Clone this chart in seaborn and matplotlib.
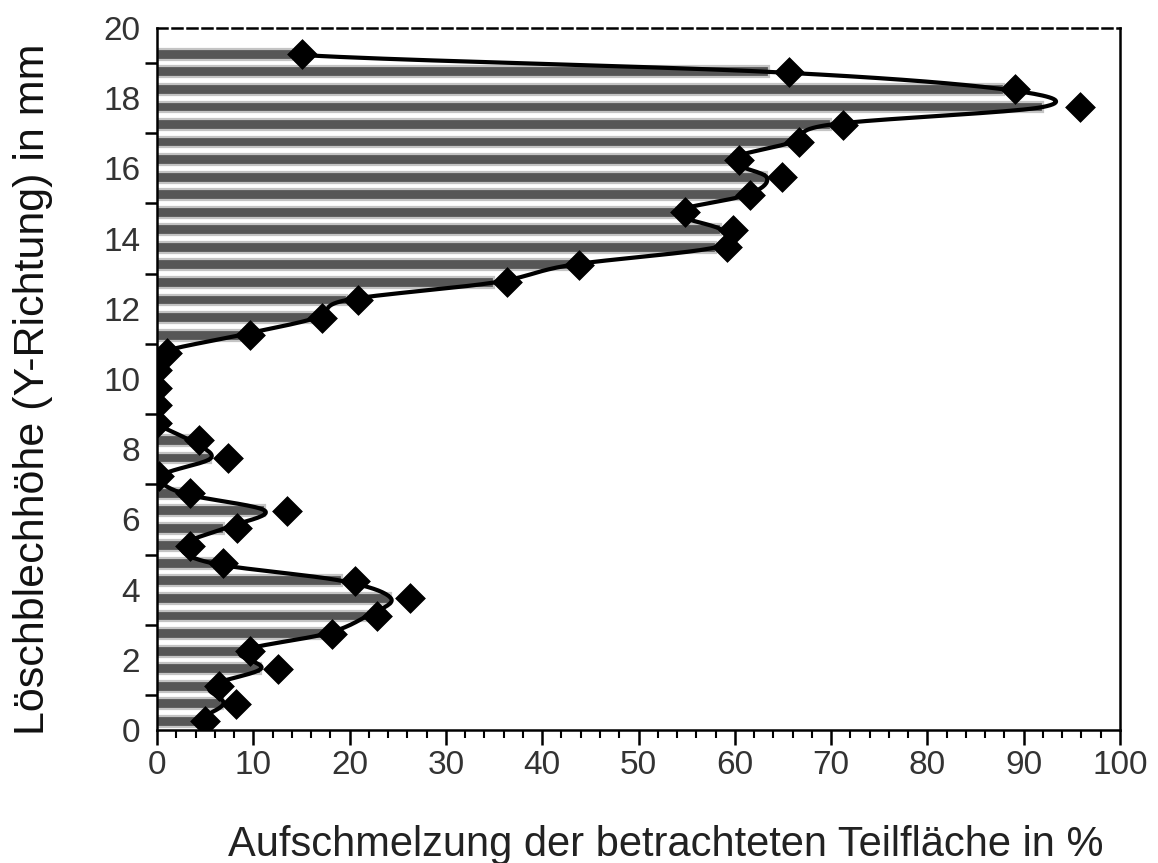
import numpy as np
import pandas as pd
import matplotlib
matplotlib.use("Agg")
import matplotlib.pyplot as plt
import seaborn as sns
from matplotlib.ticker import MultipleLocator

# --- data ---
hoehe_mm = [0.25, 0.75, 1.25, 1.75, 2.25, 2.75, 3.25, 3.75, 4.25, 4.75,
            5.25, 5.75, 6.25, 6.75, 7.25, 7.75, 8.25, 8.75, 9.25, 9.75,
            10.25, 10.75, 11.25, 11.75, 12.25, 12.75, 13.25, 13.75, 14.25, 14.75,
            15.25, 15.75, 16.25, 16.75, 17.25, 17.75, 18.25, 18.75, 19.25]
balken_prozent = [4.2, 6.9, 5.5, 10.8, 8.8, 17.6, 21.8, 24.3, 19.2, 5.8,
                  2.6, 7.0, 11.2, 2.6, 0.5, 5.6, 3.4, 0.0, 0.0, 0.0,
                  0.0, 0.4, 8.6, 16.6, 19.7, 35.0, 43.0, 58.0, 58.6, 53.8,
                  61.3, 63.3, 59.5, 66.0, 70.0, 92.0, 88.0, 63.5, 14.0]
punkte_prozent = [5.0, 8.2, 6.4, 12.6, 9.7, 18.2, 22.8, 26.3, 20.6, 6.8,
                  3.4, 8.3, 13.5, 3.4, 0.2, 7.4, 4.4, 0.0, 0.0, 0.0,
                  0.0, 1.0, 9.7, 17.1, 20.9, 36.3, 43.8, 59.2, 59.8, 54.8,
                  61.6, 64.9, 60.4, 66.7, 71.2, 95.8, 89.1, 65.6, 15.1]
x_ticks = [0, 10, 20, 30, 40, 50, 60, 70, 80, 90, 100]
y_ticks = [0, 2, 4, 6, 8, 10, 12, 14, 16, 18, 20]
x_label = "Aufschmelzung der betrachteten Teilfläche in %"
y_label = "Löschblechhöhe (Y-Richtung) in mm"

df = pd.DataFrame({"y": hoehe_mm, "bar": balken_prozent, "pt": punkte_prozent})


def catmull_rom(ts, vs, n=20):
    """Smooth curve through (ts, vs); returns (t_curve, v_curve)."""
    ts = np.asarray(ts, float)
    vs = np.asarray(vs, float)
    pt = np.concatenate([[2 * ts[0] - ts[1]], ts, [2 * ts[-1] - ts[-2]]])
    pv = np.concatenate([[vs[0]], vs, [vs[-1]]])
    out_t, out_v = [], []
    u = np.linspace(0, 1, n, endpoint=False)
    for i in range(1, len(pt) - 2):
        for arr, out in ((pt, out_t), (pv, out_v)):
            p0, p1, p2, p3 = arr[i - 1], arr[i], arr[i + 1], arr[i + 2]
            out.extend(0.5 * ((2 * p1) + (-p0 + p2) * u +
                              (2 * p0 - 5 * p1 + 4 * p2 - p3) * u ** 2 +
                              (-p0 + 3 * p1 - 3 * p2 + p3) * u ** 3))
    out_t.append(ts[-1])
    out_v.append(vs[-1])
    return np.array(out_t), np.array(out_v)


sns.set_theme(style="white")
plt.rcParams["font.family"] = ["Liberation Sans", "DejaVu Sans"]

fig = plt.figure(figsize=(11.58, 8.63), dpi=100)
ax = fig.add_axes([0.1356, 0.154, 0.8316, 0.8136])

sns.barplot(data=df, x="bar", y="y", orient="y", native_scale=True,
            width=0.62, color="#565656", edgecolor="#c4c4c4", linewidth=1.6,
            saturation=1, ax=ax, zorder=2)

cy, cx = catmull_rom(df["y"], df["bar"])
curve = pd.DataFrame({"x": np.clip(cx, 0, None), "y": cy})
sns.lineplot(data=curve, x="x", y="y", sort=False, estimator=None,
             color="black", linewidth=3.0, ax=ax, zorder=3)

sns.scatterplot(data=df, x="pt", y="y", marker="D", s=230, color="black",
                edgecolor="black", linewidth=0.5, ax=ax, zorder=4)

ax.set_xlim(0, 100)
ax.set_ylim(0, 20)
ax.set_xticks(x_ticks)
ax.set_xticklabels([str(v) for v in x_ticks])
ax.xaxis.set_minor_locator(MultipleLocator(2))
ax.set_yticks(y_ticks)
ax.set_yticklabels([str(v) for v in y_ticks])
ax.set_yticks([1, 3, 5, 7, 9, 11, 13, 15, 17, 19], minor=True)

ax.tick_params(axis="x", which="major", direction="out", length=11, width=1.8,
               colors="black", labelsize=24, labelcolor="#333333", pad=3,
               bottom=True)
ax.tick_params(axis="x", which="minor", direction="out", length=6, width=1.5,
               colors="black", bottom=True)
ax.tick_params(axis="y", which="major", length=0, labelsize=24,
               labelcolor="#333333", pad=12)
ax.tick_params(axis="y", which="minor", direction="out", length=9, width=1.8,
               colors="black", left=True)

for side in ["left", "bottom", "right", "top"]:
    ax.spines[side].set_visible(True)
    ax.spines[side].set_color("black")
    ax.spines[side].set_linewidth(1.8)
ax.spines["top"].set_linestyle((0, (4, 2)))

ax.set_xlabel(x_label, fontsize=30, color="#222222")
ax.set_ylabel(y_label, fontsize=31, color="#111111")
ax.xaxis.set_label_coords(0.528, -0.135)
ax.yaxis.set_label_coords(-0.108, 0.485)
ax.grid(False)

fig.savefig("out.png", dpi=100)
